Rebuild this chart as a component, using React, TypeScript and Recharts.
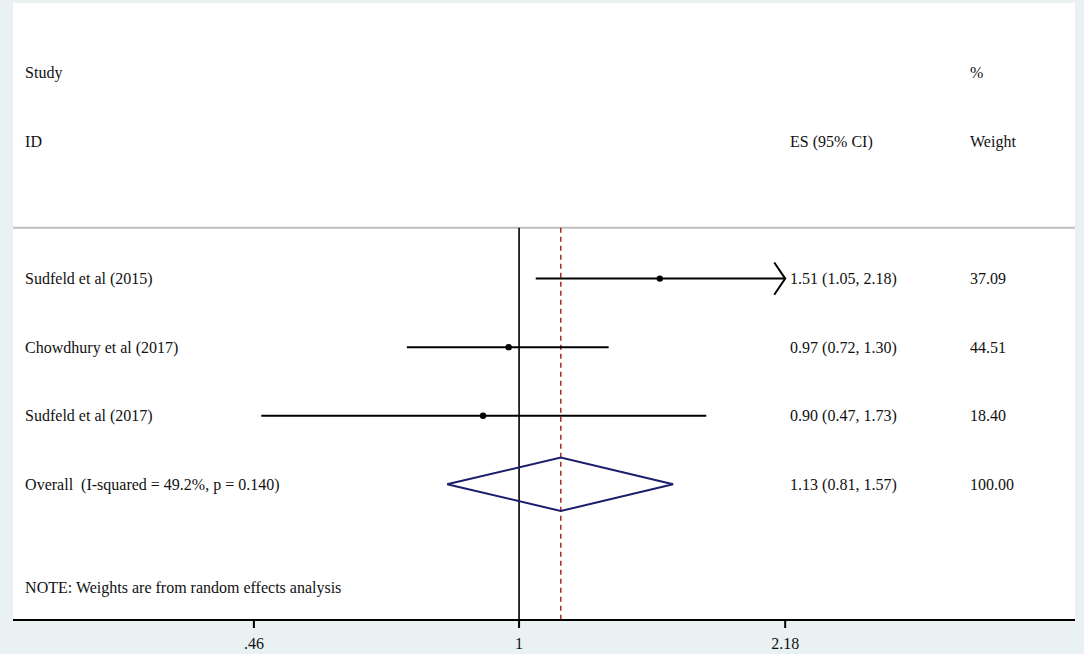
import React from "react";
import {
  ComposedChart,
  XAxis,
  YAxis,
  Line,
  Scatter,
  ReferenceLine,
  CartesianGrid,
} from "recharts";

const studyNames = ["Sudfeld et al (2015)", "Chowdhury et al (2017)", "Sudfeld et al (2017)"];
const studyEs = [1.51, 0.97, 0.9];
const studyLower = [1.05, 0.72, 0.47];
const studyUpper = [2.18, 1.3, 1.73];
const studyWeights = ["37.09", "44.51", "18.40"];

const overallLabel = "Overall  (I-squared = 49.2%, p = 0.140)";
const overallEs = 1.13;
const overallLower = 0.81;
const overallUpper = 1.57;
const overallWeight = "100.00";

const noteText = "NOTE: Weights are from random effects analysis";
const axisTicks = [0.46, 1, 2.18];

// layout (log-scale x, row units on y)
const X_MIN = -1.482;
const X_MAX = 1.628;
const COL_STUDY = (25 - 519) / 341.5;
const COL_ES = (790 - 519) / 341.5;
const COL_WEIGHT = (970 - 519) / 341.5;
const ROW_STUDY = 1.02;
const ROW_ID = 2.02;
const ROW_SEP = 3.28;
const ROW_FIRST = 4.02;
const ROW_NOTE = 8.52;
const Y_MAX = 9;

const FONT = "'Liberation Serif', 'Times New Roman', serif";
const fmt = (v: number) => v.toFixed(2);

const overallRow = ROW_FIRST + studyNames.length;

const textRows = [
  { x: COL_STUDY, y: ROW_STUDY, label: "Study" },
  { x: COL_STUDY, y: ROW_ID, label: "ID" },
  { x: COL_ES, y: ROW_ID, label: "ES (95% CI)" },
  { x: COL_WEIGHT, y: ROW_STUDY, label: "%" },
  { x: COL_WEIGHT, y: ROW_ID, label: "Weight" },
  ...studyNames.flatMap((name, i) => [
    { x: COL_STUDY, y: ROW_FIRST + i, label: name },
    {
      x: COL_ES,
      y: ROW_FIRST + i,
      label: `${fmt(studyEs[i])} (${fmt(studyLower[i])}, ${fmt(studyUpper[i])})`,
    },
    { x: COL_WEIGHT, y: ROW_FIRST + i, label: studyWeights[i] },
  ]),
  { x: COL_STUDY, y: overallRow, label: overallLabel },
  {
    x: COL_ES,
    y: overallRow,
    label: `${fmt(overallEs)} (${fmt(overallLower)}, ${fmt(overallUpper)})`,
  },
  { x: COL_WEIGHT, y: overallRow, label: overallWeight },
  { x: COL_STUDY, y: ROW_NOTE, label: noteText },
];

const points = studyEs.map((v, i) => ({ x: Math.log(v), y: ROW_FIRST + i }));

const DIAMOND_H = 0.39;
const diamond = [
  { x: Math.log(overallLower), y: overallRow },
  { x: Math.log(overallEs), y: overallRow - DIAMOND_H },
  { x: Math.log(overallUpper), y: overallRow },
  { x: Math.log(overallEs), y: overallRow + DIAMOND_H },
  { x: Math.log(overallLower), y: overallRow },
];

const axisMax = axisTicks[axisTicks.length - 1];
const arrows = studyUpper
  .map((u, i) => ({ u, i }))
  .filter((d) => d.u >= axisMax)
  .map(({ i }) => {
    const tip = Math.log(axisMax);
    const y = ROW_FIRST + i;
    return [
      { x: tip - 0.032, y: y - 0.235 },
      { x: tip, y },
      { x: tip - 0.032, y: y + 0.235 },
    ];
  });

const TextShape = (props: any) => {
  const { cx, cy, payload } = props;
  return (
    <text
      x={cx}
      y={cy}
      dominantBaseline="central"
      fontFamily={FONT}
      fontSize={16}
      fill="#111"
      style={{ whiteSpace: "pre" }}
    >
      {payload.label}
    </text>
  );
};

const DotShape = (props: any) => (
  <circle cx={props.cx} cy={props.cy} r={3.2} fill="#000" />
);

export default function App() {
  return (
    <div
      style={{
        position: "absolute",
        left: 0,
        top: 0,
        width: 1084,
        height: 654,
        background: "#EAF1F3",
        overflow: "hidden",
      }}
    >
      <ComposedChart
        width={1084}
        height={654}
        margin={{ top: 3, right: 9, bottom: 4, left: 13 }}
      >
        <CartesianGrid fill="#fff" horizontal={false} vertical={false} />
        <XAxis
          type="number"
          dataKey="x"
          height={30}
          domain={[X_MIN, X_MAX]}
          allowDataOverflow
          ticks={axisTicks.map((t) => Math.log(t))}
          tickFormatter={(v: number) => {
            const t = axisTicks.find((a) => Math.abs(Math.log(a) - v) < 1e-6);
            if (t === 1) return "1";
            return String(t).replace(/^0\./, ".");
          }}
          axisLine={{ stroke: "#000", strokeWidth: 2 }}
          tickLine={{ stroke: "#000", strokeWidth: 2 }}
          tickSize={8}
          tickMargin={10}
          tick={{ fontFamily: FONT, fontSize: 16, fill: "#111" }}
        />
        <YAxis type="number" dataKey="y" domain={[0, Y_MAX]} reversed hide />

        <ReferenceLine y={ROW_SEP} stroke="#BEBEBE" strokeWidth={2} />
        <ReferenceLine
          segment={[
            { x: 0, y: ROW_SEP },
            { x: 0, y: Y_MAX },
          ]}
          stroke="#000"
          strokeWidth={1.6}
        />
        <ReferenceLine
          segment={[
            { x: Math.log(overallEs), y: ROW_SEP },
            { x: Math.log(overallEs), y: Y_MAX },
          ]}
          stroke="#9E1B1B"
          strokeWidth={1.4}
          strokeDasharray="5 4"
        />

        {studyNames.map((_, i) => (
          <ReferenceLine
            key={`ci-${i}`}
            segment={[
              { x: Math.log(studyLower[i]), y: ROW_FIRST + i },
              { x: Math.log(studyUpper[i]), y: ROW_FIRST + i },
            ]}
            stroke="#000"
            strokeWidth={2}
          />
        ))}

        {arrows.map((a, i) => (
          <Line
            key={`arrow-${i}`}
            data={a}
            dataKey="y"
            type="linear"
            stroke="#000"
            strokeWidth={2}
            dot={false}
            activeDot={false}
            isAnimationActive={false}
          />
        ))}

        <Line
          data={diamond}
          dataKey="y"
          type="linear"
          stroke="#1B1E6B"
          strokeWidth={2}
          dot={false}
          activeDot={false}
          isAnimationActive={false}
        />

        <Scatter data={points} shape={DotShape} isAnimationActive={false} />
        <Scatter data={textRows} shape={TextShape} isAnimationActive={false} />
      </ComposedChart>
    </div>
  );
}
